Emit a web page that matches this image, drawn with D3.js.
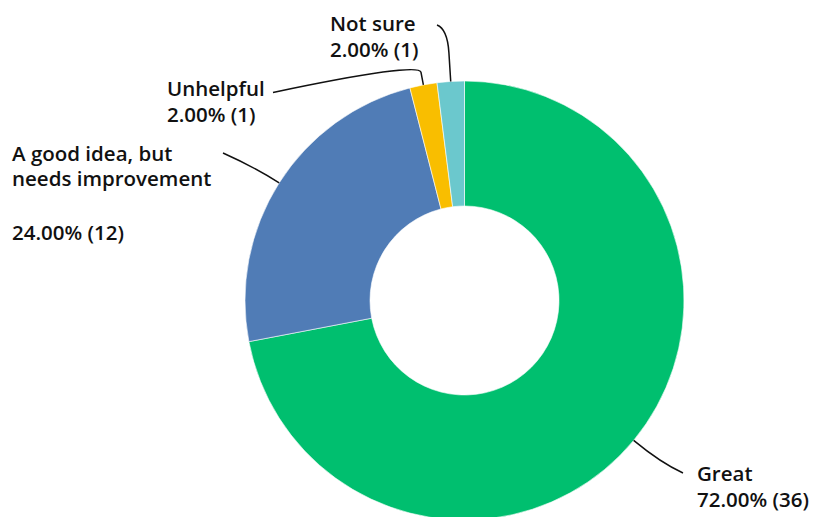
<!DOCTYPE html>
<html><head><meta charset="utf-8">
<script src="https://cdn.jsdelivr.net/npm/d3@7"></script>
<style>html,body{margin:0;padding:0;background:#fff;}svg{display:block;}</style>
</head><body>
<svg id="chart" width="823" height="517"></svg>
<script>
const categories = ["Great", "A good idea, but needs improvement", "Unhelpful", "Not sure"];
const counts = [36, 12, 1, 1];
const percents = ["72.00%", "24.00%", "2.00%", "2.00%"];
const colors = ["#00BF6F", "#507CB6", "#F9BE00", "#6BC8CD"];
const labelLines = [
  ["Great", "72.00% (36)"],
  ["A good idea, but", "needs improvement", "", "24.00% (12)"],
  ["Unhelpful", "2.00% (1)"],
  ["Not sure", "2.00% (1)"]
];

const W = 823, H = 517;
const cx = 464.5, cy = 300.5, R = 219.5, r0 = 94.5;
const svg = d3.select("#chart");
const g = svg.append("g").attr("transform", `translate(${cx},${cy})`);

const pie = d3.pie().sort(null).value(d => d)(counts);
const arc = d3.arc().innerRadius(r0).outerRadius(R);

g.selectAll("path.slice").data(pie).enter().append("path")
  .attr("class", "slice")
  .attr("d", arc)
  .attr("fill", (d, i) => colors[i])
  .attr("stroke", "#fff").attr("stroke-width", 0.6);

const labelPos = [
  {x: 697, y: 481, lead: [683, 473], lh: [25.5], elbow: 255},
  {x: 12, y: 160.5, lead: [223, 153], lh: [25.5, 27, 27], elbow: 250},
  {x: 167, y: 96, lead: [273, 92.5], lh: [25.5], elbow: 243},
  {x: 330, y: 31, lead: [437, 25], lh: [25.5], elbow: 272}
];

function pt(a, rad) { return [cx + rad * Math.sin(a), cy - rad * Math.cos(a)]; }

pie.forEach((d, i) => {
  const mid = (d.startAngle + d.endAngle) / 2;
  const s = pt(mid, R);
  const e = pt(mid, labelPos[i].elbow);
  const p = pt(mid, R + (labelPos[i].elbow - R) * 0.55);
  const t = labelPos[i].lead;
  let dstr;
  if (i >= 2) dstr = `M${s[0]},${s[1]}L${p[0]},${p[1]}Q${e[0]},${e[1]} ${t[0]},${t[1]}`;
  else dstr = `M${s[0]},${s[1]}Q${e[0]},${e[1]} ${t[0]},${t[1]}`;
  svg.append("path").attr("d", dstr).attr("fill", "none")
    .attr("stroke", "#111").attr("stroke-width", 1.5);

  const lp = labelPos[i];
  let yy = lp.y;
  labelLines[i].forEach((line, j) => {
    if (j > 0) yy += lp.lh[j - 1];
    if (!line) return;
    svg.append("text")
      .attr("x", lp.x).attr("y", yy)
      .attr("font-family", "'Open Sans', Roboto, sans-serif")
      .attr("font-weight", 600)
      .attr("font-size", 20.5)
      .attr("fill", "#111")
      .text(line);
  });
});
</script>
</body></html>
